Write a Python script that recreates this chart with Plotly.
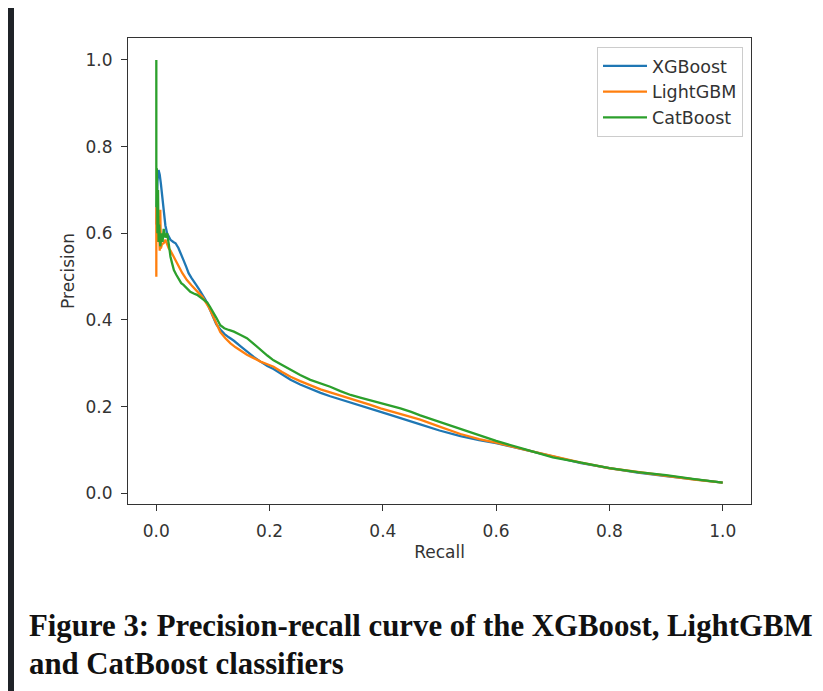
import plotly.graph_objects as go

# ---------------- data ----------------
xgb_recall = [0.000, 0.001, 0.002, 0.004, 0.006, 0.008, 0.010, 0.012, 0.014, 0.016, 0.019, 0.022,
              0.025, 0.030, 0.034, 0.039, 0.044, 0.048, 0.053, 0.057, 0.062, 0.066, 0.071, 0.075,
              0.081, 0.087, 0.091, 0.095, 0.100, 0.106, 0.113, 0.120, 0.128, 0.137, 0.150, 0.160,
              0.172, 0.184, 0.196, 0.207, 0.222, 0.237, 0.254, 0.272, 0.290, 0.307, 0.325, 0.343,
              0.360, 0.378, 0.396, 0.413, 0.431, 0.450, 0.466, 0.500, 0.537, 0.570, 0.600, 0.650,
              0.700, 0.750, 0.800, 0.850, 0.900, 0.950, 1.000]
xgb_precision = [0.62, 0.70, 0.72, 0.746, 0.735, 0.715, 0.69, 0.67, 0.645, 0.618, 0.60, 0.592,
                 0.585, 0.580, 0.577, 0.566, 0.552, 0.538, 0.522, 0.508, 0.497, 0.488, 0.480, 0.472,
                 0.460, 0.446, 0.435, 0.423, 0.405, 0.39, 0.378, 0.368, 0.36, 0.352, 0.338, 0.327,
                 0.315, 0.304, 0.294, 0.287, 0.274, 0.262, 0.251, 0.241, 0.232, 0.224, 0.217, 0.210,
                 0.203, 0.196, 0.188, 0.181, 0.174, 0.166, 0.159, 0.145, 0.132, 0.123, 0.116, 0.101,
                 0.085, 0.070, 0.058, 0.048, 0.040, 0.032, 0.025]

lgb_recall = [0.000, 0.000, 0.000, 0.001, 0.002, 0.003, 0.004, 0.006, 0.007, 0.008, 0.010, 0.013,
              0.016, 0.019, 0.022, 0.025, 0.028, 0.032, 0.037, 0.041, 0.046, 0.050, 0.054, 0.062,
              0.069, 0.075, 0.081, 0.087, 0.092, 0.097, 0.103, 0.108, 0.113, 0.122, 0.131, 0.140,
              0.150, 0.160, 0.172, 0.184, 0.196, 0.207, 0.222, 0.237, 0.254, 0.272, 0.290, 0.307,
              0.325, 0.343, 0.360, 0.378, 0.396, 0.413, 0.431, 0.450, 0.466, 0.500, 0.537, 0.570,
              0.600, 0.650, 0.700, 0.750, 0.800, 0.850, 0.900, 0.950, 1.000]
lgb_precision = [0.50, 0.66, 0.55, 0.62, 0.67, 0.58, 0.64, 0.56, 0.654, 0.565, 0.575, 0.577,
                 0.585, 0.575, 0.565, 0.56, 0.552, 0.545, 0.531, 0.52, 0.508, 0.50, 0.492, 0.48,
                 0.469, 0.462, 0.454, 0.442, 0.431, 0.418, 0.40, 0.385, 0.372, 0.358, 0.346, 0.337,
                 0.328, 0.320, 0.312, 0.304, 0.298, 0.292, 0.280, 0.269, 0.259, 0.249, 0.240, 0.233,
                 0.226, 0.219, 0.212, 0.204, 0.196, 0.190, 0.184, 0.177, 0.170, 0.154, 0.137, 0.125,
                 0.117, 0.101, 0.086, 0.071, 0.058, 0.049, 0.040, 0.032, 0.025]

cat_recall = [0.000, 0.000, 0.000, 0.000, 0.001, 0.002, 0.003, 0.004, 0.005, 0.007, 0.009, 0.011,
              0.013, 0.016, 0.019, 0.022, 0.025, 0.028, 0.031, 0.035, 0.039, 0.044, 0.048, 0.054,
              0.060, 0.066, 0.072, 0.078, 0.084, 0.090, 0.095, 0.100, 0.106, 0.113, 0.120, 0.128,
              0.137, 0.148, 0.160, 0.172, 0.184, 0.196, 0.207, 0.222, 0.237, 0.254, 0.272, 0.290,
              0.307, 0.325, 0.343, 0.360, 0.378, 0.396, 0.413, 0.431, 0.450, 0.466, 0.500, 0.537,
              0.570, 0.600, 0.650, 0.700, 0.750, 0.800, 0.850, 0.900, 0.950, 1.000]
cat_precision = [1.00, 0.91, 0.80, 0.66, 0.75, 0.60, 0.70, 0.58, 0.62, 0.57, 0.60, 0.58,
                 0.61, 0.59, 0.60, 0.575, 0.546, 0.53, 0.515, 0.505, 0.496, 0.485, 0.481, 0.472,
                 0.465, 0.461, 0.458, 0.452, 0.446, 0.44, 0.43, 0.42, 0.405, 0.388, 0.381, 0.377,
                 0.373, 0.366, 0.358, 0.345, 0.331, 0.318, 0.307, 0.296, 0.285, 0.273, 0.262, 0.254,
                 0.246, 0.236, 0.227, 0.221, 0.215, 0.208, 0.202, 0.196, 0.188, 0.180, 0.165, 0.149,
                 0.134, 0.121, 0.102, 0.083, 0.071, 0.058, 0.049, 0.042, 0.033, 0.025]

series_names = ["XGBoost", "LightGBM", "CatBoost"]
tick_values = [0.0, 0.2, 0.4, 0.6, 0.8, 1.0]
tick_labels = ["0.0", "0.2", "0.4", "0.6", "0.8", "1.0"]
caption_lines = ["Figure 3: Precision-recall curve of the XGBoost, LightGBM",
                 "and CatBoost classifiers"]

# ---------------- figure ----------------
colors = ["#1f77b4", "#ff7f0e", "#2ca02c"]
fig = go.Figure()
for name, rx, py, col in zip(series_names,
                             [xgb_recall, lgb_recall, cat_recall],
                             [xgb_precision, lgb_precision, cat_precision],
                             colors):
    fig.add_trace(go.Scatter(x=rx, y=py, mode="lines", name=name,
                             line=dict(color=col, width=2.3)))

# the page adds an 8px body margin, so the figure is sized to fit inside it
W, H = 815, 683
L, R, T, B = 120, 72, 30, 187
pw, ph = W - L - R, H - T - B


def px_x(p):
    return (p - L) / pw


def px_y(p):
    return (H - B - p) / ph


txt = "#333333"
axis_common = dict(showgrid=False, zeroline=False, showline=True, mirror=True,
                   linecolor=txt, linewidth=1.2, ticks="outside", ticklen=6,
                   tickwidth=1.2, tickcolor=txt, ticklabelstandoff=5,
                   tickfont=dict(family="DejaVu Sans", size=17, color=txt),
                   tickvals=tick_values, ticktext=tick_labels)

fig.update_layout(
    width=W, height=H,
    margin=dict(l=L, r=R, t=T, b=B),
    paper_bgcolor="white", plot_bgcolor="white",
    font=dict(family="DejaVu Sans", size=17, color=txt),
    xaxis=dict(range=[-0.05, 1.05], title=dict(text="Recall", standoff=6,
                                                font=dict(size=17, color=txt)),
               **axis_common),
    yaxis=dict(range=[-0.0245, 1.0505], title=dict(text="Precision", standoff=6,
                                                    font=dict(size=17, color=txt)),
               **axis_common),
    legend=dict(x=px_x(735), xanchor="right", y=px_y(39), yanchor="top",
                bgcolor="rgba(255,255,255,0.8)", bordercolor="#cccccc", borderwidth=1,
                itemwidth=44,
                font=dict(family="DejaVu Sans", size=17.5, color=txt)),
    showlegend=True,
)

# dark page edge strip (left)
strip = "#1f2328"
fig.add_shape(type="rect", xref="paper", yref="paper", x0=px_x(0), x1=px_x(6),
              y0=px_y(H), y1=px_y(0), fillcolor=strip, line=dict(width=0), layer="above")

# caption
cap_font = dict(family="Liberation Serif", size=30.8, color="#111111")
fig.add_annotation(text="<b>" + caption_lines[0] + "</b>", xref="paper", yref="paper",
                   x=px_x(19), y=px_y(636.5), xanchor="left", yanchor="bottom",
                   showarrow=False, font=cap_font)
fig.add_annotation(text="<b>" + caption_lines[1] + "</b>", xref="paper", yref="paper",
                   x=px_x(19), y=px_y(674.5), xanchor="left", yanchor="bottom",
                   showarrow=False, font=cap_font)

fig.write_html("out.html")
